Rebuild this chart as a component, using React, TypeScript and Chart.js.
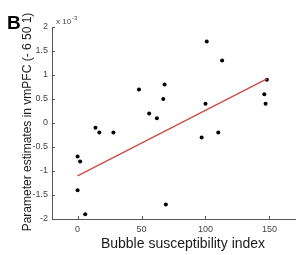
import React, { useEffect, useRef } from "react";
import { Chart, registerables } from "chart.js";

Chart.register(...registerables);

const xValues = [48, 56, 14, 101, 113, 68, 67, 100, 148, 146, 147, 62, 17, 28, 0, 2, 0, 6, 97, 110, 69];
const yValues = [0.7, 0.2, -0.1, 1.7, 1.3, 0.8, 0.5, 0.4, 0.9, 0.6, 0.4, 0.1, -0.2, -0.2, -0.7, -0.8, -1.4, -1.9, -0.3, -0.2, -1.7];
const fitX = [0, 148];
const fitY = [-1.1, 0.92];
const xTicks = [0, 50, 100, 150];
const yTicks = [-2, -1.5, -1, -0.5, 0, 0.5, 1, 1.5, 2];
const xTitle = "Bubble susceptibility index";
const yTitle = "Parameter estimates in vmPFC (- 6 50 1)";
const panelLabel = "B";

const FONT = "'Liberation Sans', Arial, Helvetica, sans-serif";

const decorPlugin = {
  id: "decor",
  afterDraw(chart: any) {
    const ctx = chart.ctx;
    const { left, top, bottom } = chart.chartArea;
    const xs = chart.scales.x;
    const ys = chart.scales.y;
    ctx.save();
    ctx.strokeStyle = "#555";
    ctx.lineWidth = 1;
    ctx.beginPath();
    xs.ticks.forEach((t: any) => {
      const px = Math.round(xs.getPixelForValue(t.value)) + 0.5;
      ctx.moveTo(px, bottom);
      ctx.lineTo(px, bottom - 3);
    });
    ys.ticks.forEach((t: any) => {
      const py = Math.round(ys.getPixelForValue(t.value)) + 0.5;
      ctx.moveTo(left, py);
      ctx.lineTo(left + 3, py);
    });
    ctx.stroke();
    // exponent label
    ctx.fillStyle = "#444";
    ctx.textBaseline = "alphabetic";
    ctx.textAlign = "left";
    ctx.font = `8px ${FONT}`;
    ctx.fillText("x 10", left + 4, top - 3);
    const w = ctx.measureText("x 10").width;
    ctx.font = `6px ${FONT}`;
    ctx.fillText("-3", left + 4 + w + 1, top - 7);
    // panel label
    ctx.fillStyle = "#000";
    ctx.font = `bold 19px ${FONT}`;
    ctx.fillText(panelLabel, 7, 29);
    // axis titles
    ctx.fillStyle = "#1a1a1a";
    ctx.font = `14px ${FONT}`;
    ctx.textAlign = "center";
    ctx.fillText(xTitle, 183, 248);
    ctx.save();
    ctx.translate(31, 122);
    ctx.rotate(-Math.PI / 2);
    ctx.font = `12px ${FONT}`;
    ctx.fillText(yTitle, 0, 0);
    ctx.restore();
    ctx.restore();
  },
};

export default function App() {
  const ref = useRef<HTMLCanvasElement>(null);
  useEffect(() => {
    const points = xValues.map((x, i) => ({ x, y: yValues[i] }));
    const fit = fitX.map((x, i) => ({ x, y: fitY[i] }));
    const chart = new Chart(ref.current!, {
      type: "scatter",
      data: {
        datasets: [
          {
            type: "line",
            data: fit,
            borderColor: "#c8504a",
            borderWidth: 1.5,
            pointRadius: 0,
            showLine: true,
            fill: false,
          } as any,
          {
            data: points,
            backgroundColor: "#000",
            borderColor: "#000",
            pointRadius: 2,
            borderWidth: 0,
          },
        ],
      },
      options: {
        animation: false,
        responsive: false,
        devicePixelRatio: 1,
        layout: { padding: { top: 27, right: 2, left: 0, bottom: 0 } },
        plugins: { legend: { display: false }, tooltip: { enabled: false } },
        scales: {
          x: {
            type: "linear",
            min: -20,
            max: 170,
            afterBuildTicks: (s: any) => {
              s.ticks = xTicks.map((v) => ({ value: v }));
            },
            afterFit: (s: any) => {
              s.height = 36;
            },
            grid: { display: false, drawTicks: false, tickLength: 0 },
            border: { display: true, color: "#555", width: 1 },
            ticks: {
              color: "#444",
              font: { size: 9, family: FONT },
              padding: 5,
              maxRotation: 0,
              callback: (v: any) => String(v),
            },
            title: { display: false },
          },
          y: {
            type: "linear",
            min: -2,
            max: 2,
            afterBuildTicks: (s: any) => {
              s.ticks = yTicks.map((v) => ({ value: v }));
            },
            afterFit: (s: any) => {
              s.width = 52;
            },
            grid: { display: false, drawTicks: false, tickLength: 0 },
            border: { display: true, color: "#555", width: 1 },
            ticks: {
              color: "#444",
              font: { size: 9, family: FONT },
              padding: 4,
              callback: (v: any) => String(v),
            },
            title: { display: false },
          },
        },
      },
      plugins: [decorPlugin],
    });
    return () => chart.destroy();
  }, []);
  return (
    <div style={{ position: "fixed", left: 0, top: 0, width: 299, height: 255, background: "#fff" }}>
      <canvas ref={ref} width={299} height={255} style={{ width: 299, height: 255 }} />
    </div>
  );
}
